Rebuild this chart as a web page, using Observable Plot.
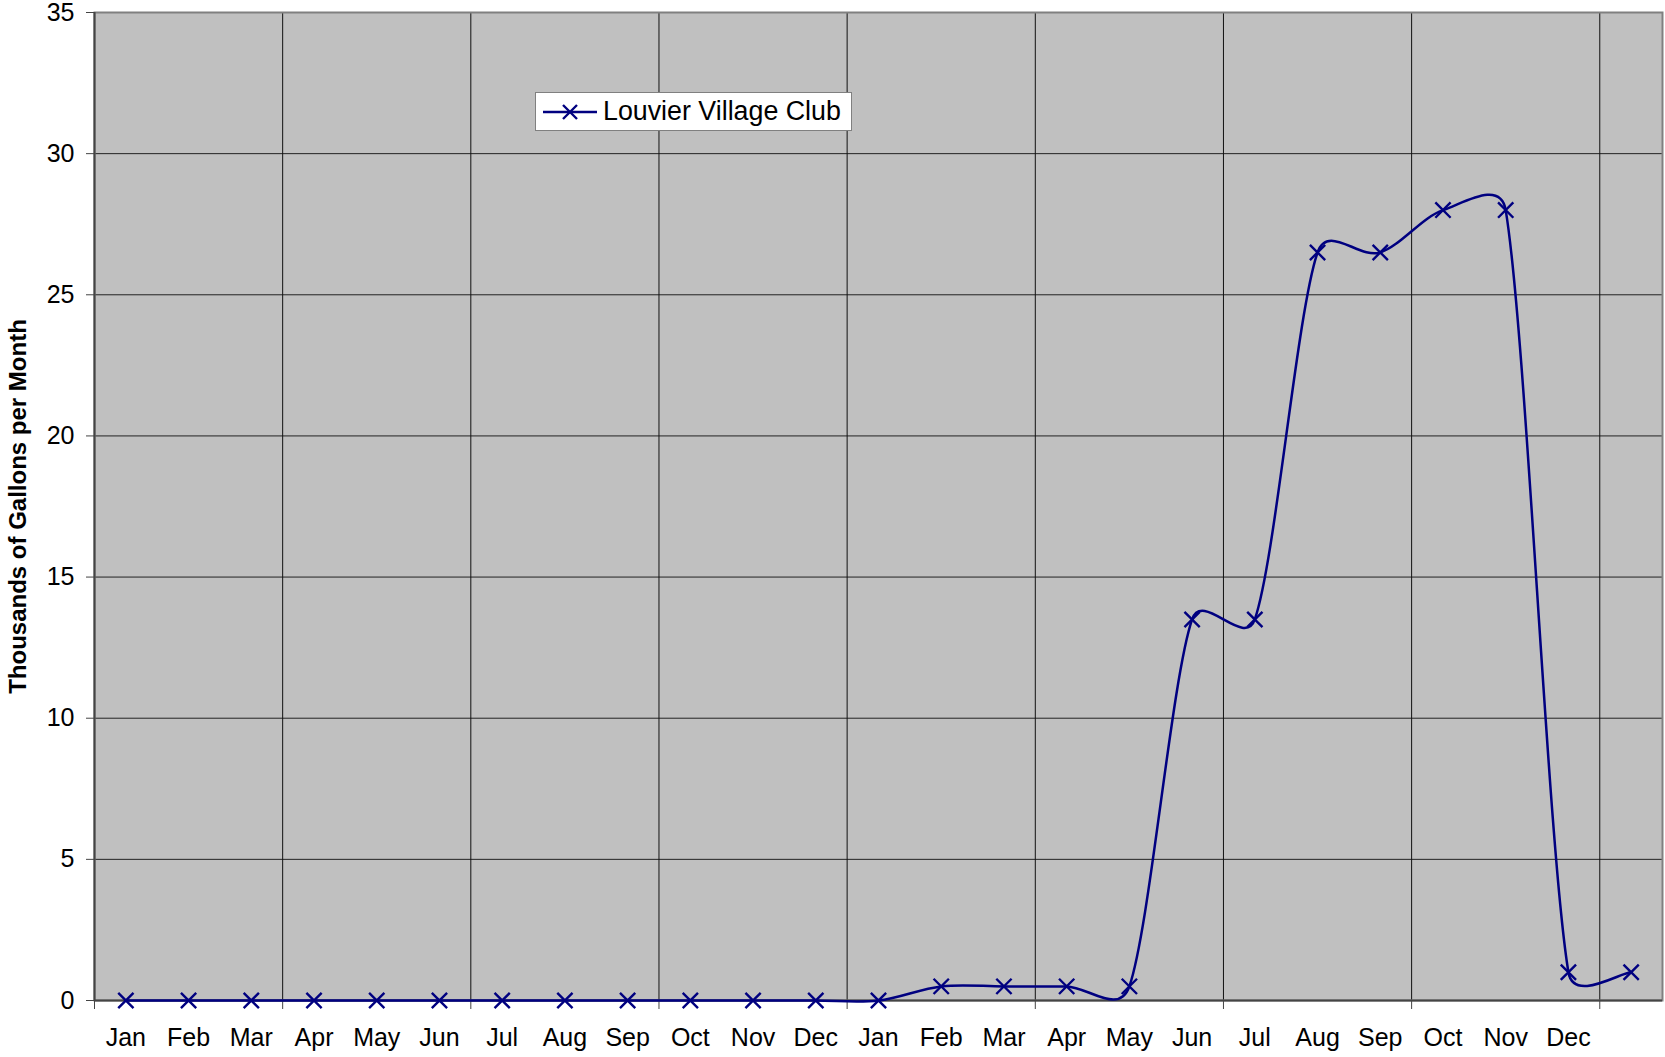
<!DOCTYPE html>
<html>
<head>
<meta charset="utf-8">
<script src="https://cdn.jsdelivr.net/npm/d3@7"></script>
<script src="https://cdn.jsdelivr.net/npm/@observablehq/plot@0.6"></script>
<style>
  html, body { margin: 0; padding: 0; background: #fff; }
  #wrap { position: relative; width: 1665px; height: 1057px; font-family: "Liberation Sans", Arial, sans-serif; }
  #legend { position: absolute; left: 535px; top: 92px; width: 317px; height: 39px; background: #fff; border: 1px solid #808080; box-sizing: border-box; display: flex; align-items: center; }
  #legend svg { margin-left: 7px; }
  #legend span { font-size: 26.8px; color: #000; margin-left: 6px; }
</style>
</head>
<body>
<div id="wrap">
  <div id="chart"></div>
  <div id="legend"></div>
</div>
<script>
const monthNames = ["Jan","Feb","Mar","Apr","May","Jun","Jul","Aug","Sep","Oct","Nov","Dec"];
const tickLabels = [...monthNames, ...monthNames];
const seriesName = "Louvier Village Club";
const yTitle = "Thousands of Gallons per Month";
// 25 monthly readings (the last one has no category label)
const usage = [0,0,0,0,0,0,0,0,0,0,0,0, 0,0.5,0.5,0.5,0.5,13.5,13.5,26.5,26.5,28,28,1,1];
const yTicks = [0,5,10,15,20,25,30,35];
const groupBoundaries = [0,3,6,9,12,15,18,21,24];

const data = usage.map((v, i) => ({slot: i + 0.5, value: v}));
const labelSlots = tickLabels.map((_, i) => i + 0.5);
const navy = "#000080";

// Spreadsheet-style smoothed line: Bezier segments with 1/6 tangents,
// limited to half the segment length (computed in screen space).
function SmoothCurve(context) { this._context = context; }
SmoothCurve.prototype = {
  areaStart() { this._line = 0; },
  areaEnd() { this._line = NaN; },
  lineStart() { this._pts = []; },
  point(x, y) { this._pts.push([+x, +y]); },
  lineEnd() {
    const p = this._pts, n = p.length, c = this._context;
    if (!n) return;
    c.moveTo(p[0][0], p[0][1]);
    const dist = (a, b) => Math.hypot(b[0] - a[0], b[1] - a[1]);
    for (let i = 0; i < n - 1; i++) {
      const P0 = p[Math.max(i - 1, 0)], P1 = p[i], P2 = p[i + 1], P3 = p[Math.min(i + 2, n - 1)];
      const d12 = dist(P1, P2), d02 = dist(P0, P2), d13 = dist(P1, P3);
      const f0 = d02 > 0 ? Math.min(1 / 6, d12 / 2 / d02) : 0;
      const f3 = d13 > 0 ? Math.min(1 / 6, d12 / 2 / d13) : 0;
      c.bezierCurveTo(
        P1[0] + f0 * (P2[0] - P0[0]), P1[1] + f0 * (P2[1] - P0[1]),
        P2[0] - f3 * (P3[0] - P1[0]), P2[1] - f3 * (P3[1] - P1[1]),
        P2[0], P2[1]
      );
    }
  }
};
const curveSmooth = (context) => new SmoothCurve(context);

const chart = Plot.plot({
  width: 1665,
  height: 1057,
  marginLeft: 94,
  marginRight: 3,
  marginTop: 12,
  marginBottom: 57,
  style: {fontFamily: "'Liberation Sans', Arial, sans-serif", fontSize: "25px", background: "#fff", color: "#000"},
  x: {domain: [0, usage.length]},
  y: {domain: [0, 35]},
  marks: [
    Plot.frame({fill: "#c0c0c0", stroke: null}),
    Plot.gridY(yTicks.filter(t => t > 0 && t < 35), {stroke: "#222", strokeOpacity: 1, strokeWidth: 1}),
    Plot.gridX(groupBoundaries.filter(t => t > 0), {stroke: "#111", strokeOpacity: 1, strokeWidth: 1}),
    Plot.frame({stroke: "#808080", strokeWidth: 2}),
    Plot.ruleX([0], {stroke: "#444", strokeWidth: 2}),
    Plot.ruleY([0], {stroke: "#444", strokeWidth: 2}),
    Plot.axisY({ticks: yTicks, tickSize: 8, tickPadding: 12, fontSize: 25, label: null, stroke: "#444"}),
    Plot.axisX({ticks: groupBoundaries, tickSize: 9, tickFormat: () => "", label: null, stroke: "#444"}),
    Plot.axisX({ticks: labelSlots, tickSize: 0, tickPadding: 28, tickFormat: (d) => tickLabels[Math.round(d - 0.5)], fontSize: 25, label: null}),
    Plot.text([yTitle], {frameAnchor: "left", textAnchor: "middle", dx: -76, rotate: -90, fontSize: 24, fontWeight: "bold", fill: "#000"}),
    Plot.line(data, {x: "slot", y: "value", stroke: navy, strokeWidth: 2.5, curve: curveSmooth}),
    Plot.dot(data, {x: "slot", y: "value", symbol: "times", r: 7, stroke: navy, strokeWidth: 2.4})
  ]
});
document.getElementById("chart").appendChild(chart);

// legend
const legend = document.getElementById("legend");
const sample = d3.create("svg").attr("width", 54).attr("height", 20);
sample.append("line").attr("x1", 0).attr("x2", 54).attr("y1", 10).attr("y2", 10).attr("stroke", navy).attr("stroke-width", 2.5);
sample.append("path").attr("d", "M20,3L34,17M20,17L34,3").attr("stroke", navy).attr("stroke-width", 2.4).attr("fill", "none");
legend.appendChild(sample.node());
const span = document.createElement("span");
span.textContent = seriesName;
legend.appendChild(span);
</script>
</body>
</html>
